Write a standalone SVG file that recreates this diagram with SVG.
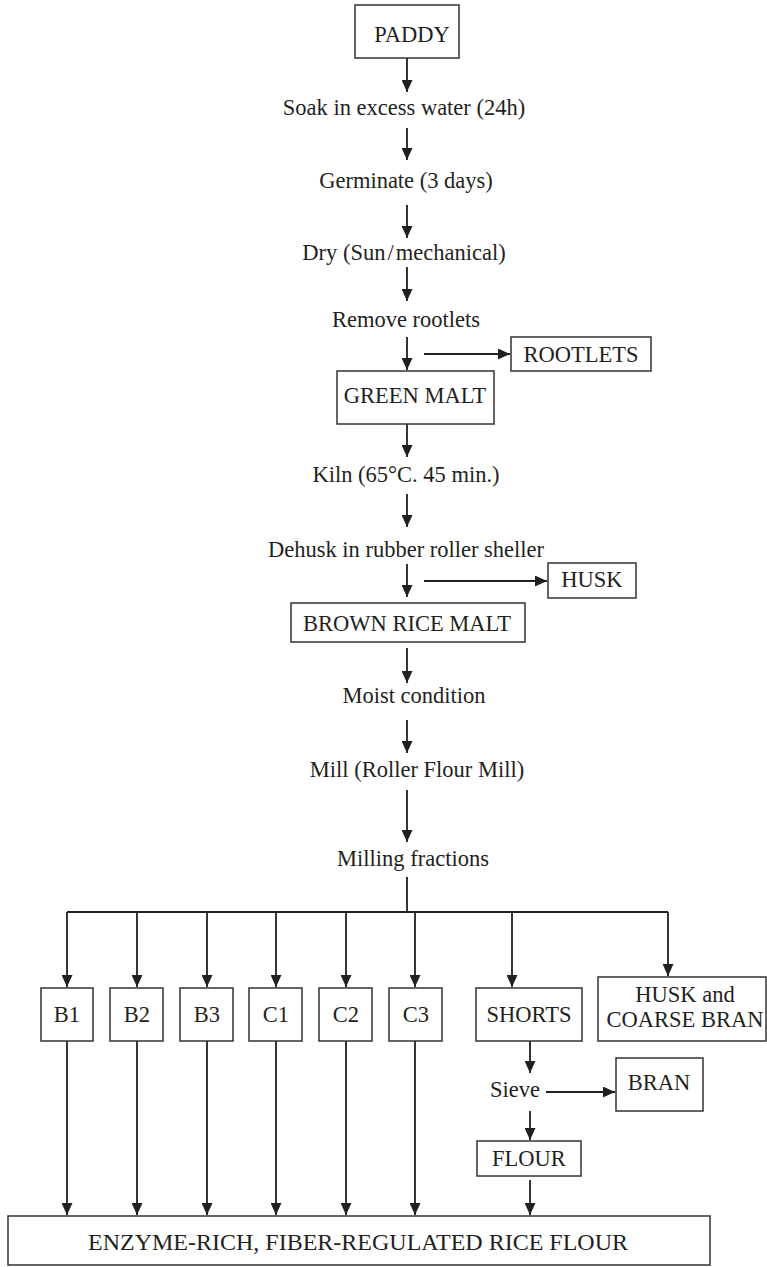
<svg xmlns="http://www.w3.org/2000/svg" width="767" height="1267" viewBox="0 0 767 1267">
<style>
  text { font-family: "Liberation Serif", "Times New Roman", serif; font-size: 22.5px; fill: #231f20; text-anchor: middle; }
  .box { fill: #fff; stroke: #333; stroke-width: 1.5; }
  .ln { fill: none; stroke: #231f20; stroke-width: 1.8; }
  .arr { marker-end: url(#ah); }
</style>
<defs>
  <marker id="ah" viewBox="0 0 12 11" refX="12" refY="5.5" markerWidth="12" markerHeight="11" markerUnits="userSpaceOnUse" orient="auto">
    <path d="M0,0 L12,5.5 L0,11 z" fill="#231f20"/>
  </marker>
</defs>
<rect width="767" height="1267" fill="#fff"/>

<g id="connectors">
  <line class="ln arr" x1="407" y1="58" x2="407" y2="92"/>
  <line class="ln arr" x1="407" y1="128" x2="407" y2="160"/>
  <line class="ln arr" x1="407" y1="205" x2="407" y2="238"/>
  <line class="ln arr" x1="407" y1="267" x2="407" y2="301"/>
  <line class="ln arr" x1="407" y1="337" x2="407" y2="370"/>
  <line class="ln arr" x1="424" y1="354" x2="510" y2="354"/>
  <line class="ln arr" x1="407" y1="424" x2="407" y2="457"/>
  <line class="ln arr" x1="407" y1="494" x2="407" y2="527"/>
  <line class="ln arr" x1="407" y1="564" x2="407" y2="597"/>
  <line class="ln arr" x1="424" y1="581" x2="547" y2="581"/>
  <line class="ln arr" x1="407" y1="648" x2="407" y2="683"/>
  <line class="ln arr" x1="407" y1="720" x2="407" y2="753"/>
  <line class="ln arr" x1="407" y1="790" x2="407" y2="842"/>
  <line class="ln" x1="407" y1="877" x2="407" y2="912"/>
  <line class="ln" x1="67" y1="912" x2="668" y2="912"/>
  <line class="ln arr" x1="67" y1="912" x2="67" y2="987"/>
  <line class="ln arr" x1="137" y1="912" x2="137" y2="987"/>
  <line class="ln arr" x1="207" y1="912" x2="207" y2="987"/>
  <line class="ln arr" x1="276" y1="912" x2="276" y2="987"/>
  <line class="ln arr" x1="346" y1="912" x2="346" y2="987"/>
  <line class="ln arr" x1="415" y1="912" x2="415" y2="987"/>
  <line class="ln arr" x1="512" y1="912" x2="512" y2="987"/>
  <line class="ln arr" x1="668" y1="912" x2="668" y2="976"/>
  <line class="ln arr" x1="67" y1="1041" x2="67" y2="1215"/>
  <line class="ln arr" x1="137" y1="1041" x2="137" y2="1215"/>
  <line class="ln arr" x1="207" y1="1041" x2="207" y2="1215"/>
  <line class="ln arr" x1="276" y1="1041" x2="276" y2="1215"/>
  <line class="ln arr" x1="346" y1="1041" x2="346" y2="1215"/>
  <line class="ln arr" x1="415" y1="1041" x2="415" y2="1215"/>
  <line class="ln arr" x1="530" y1="1041" x2="530" y2="1073"/>
  <line class="ln arr" x1="546" y1="1092" x2="615" y2="1092"/>
  <line class="ln arr" x1="530" y1="1111" x2="530" y2="1140"/>
  <line class="ln arr" x1="530" y1="1180" x2="530" y2="1215"/>
</g>

<g id="paddy"><rect class="box" x="355" y="5" width="104" height="53"/><text x="412" y="42">PADDY</text></g>
<g id="soak"><text x="404" y="115">Soak in excess water (24h)</text></g>
<g id="germinate"><text x="406" y="188">Germinate (3 days)</text></g>
<g id="dry"><text x="404" y="260">Dry (Sun<tspan dx="2">/</tspan><tspan dx="2">mechanical)</tspan></text></g>
<g id="remove"><text x="406" y="327">Remove rootlets</text></g>
<g id="rootlets"><rect class="box" x="511" y="337" width="140" height="34"/><text x="581" y="362">ROOTLETS</text></g>
<g id="greenmalt"><rect class="box" x="337" y="371" width="157" height="53"/><text x="415" y="403">GREEN MALT</text></g>
<g id="kiln"><text x="406" y="482">Kiln (65°C. 45 min.)</text></g>
<g id="dehusk"><text x="406" y="557">Dehusk in rubber roller sheller</text></g>
<g id="husk"><rect class="box" x="548" y="563" width="88" height="35"/><text x="592" y="587">HUSK</text></g>
<g id="brownricemalt"><rect class="box" x="291" y="603" width="234" height="39"/><text x="407" y="631">BROWN RICE MALT</text></g>
<g id="moist"><text x="414" y="703">Moist condition</text></g>
<g id="mill"><text x="417" y="777">Mill (Roller Flour Mill)</text></g>
<g id="milling"><text x="413" y="866">Milling fractions</text></g>

<g id="b1"><rect class="box" x="41" y="988" width="52" height="53"/><text x="67" y="1022">B1</text></g>
<g id="b2"><rect class="box" x="110" y="988" width="53" height="53"/><text x="137" y="1022">B2</text></g>
<g id="b3"><rect class="box" x="180" y="988" width="53" height="53"/><text x="207" y="1022">B3</text></g>
<g id="c1"><rect class="box" x="249" y="988" width="53" height="53"/><text x="276" y="1022">C1</text></g>
<g id="c2"><rect class="box" x="319" y="988" width="53" height="53"/><text x="346" y="1022">C2</text></g>
<g id="c3"><rect class="box" x="389" y="988" width="53" height="53"/><text x="416" y="1022">C3</text></g>
<g id="shorts"><rect class="box" x="476" y="988" width="106" height="53"/><text x="529" y="1022">SHORTS</text></g>
<g id="huskcoarse"><rect class="box" x="598" y="977" width="168" height="64"/><text x="685" y="1002">HUSK and</text><text x="685" y="1027">COARSE BRAN</text></g>
<g id="sieve"><text x="515" y="1097">Sieve</text></g>
<g id="bran"><rect class="box" x="616" y="1058" width="87" height="53"/><text x="659" y="1090">BRAN</text></g>
<g id="flour"><rect class="box" x="477" y="1141" width="104" height="35"/><text x="529" y="1166">FLOUR</text></g>
<g id="final"><rect class="box" x="8" y="1216" width="702" height="49"/><text x="358" y="1250" textLength="540" lengthAdjust="spacingAndGlyphs">ENZYME-RICH, FIBER-REGULATED RICE FLOUR</text></g>
</svg>
